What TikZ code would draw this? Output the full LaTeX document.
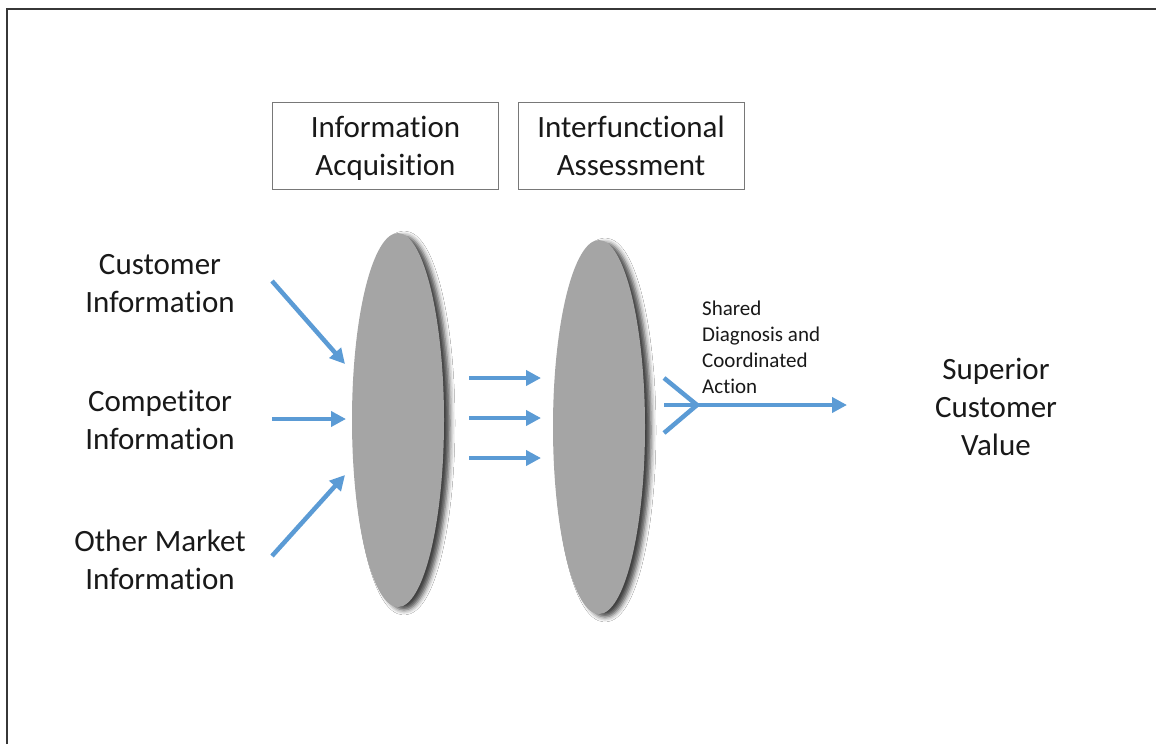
\documentclass[tikz,border=0pt]{standalone}
\usepackage{fontspec}
\setmainfont{Carlito}[Ligatures=NoCommon]
\usetikzlibrary{shapes.geometric,arrows.meta,shadows.blur}
\definecolor{arrowblue}{RGB}{91,155,213}
\definecolor{lensgray}{RGB}{165,165,165}
\definecolor{boxgray}{RGB}{120,120,120}
\definecolor{framegray}{RGB}{55,55,55}
\definecolor{txt}{RGB}{25,25,25}
\tikzset{
  bigtext/.style={font=\fontsize{31}{38}\selectfont, text=txt, align=center, inner sep=0pt},
  smalltext/.style={font=\fontsize{21}{26}\selectfont, text=txt, align=left, inner sep=0pt},
  titlebox/.style={draw=boxgray, line width=1pt, minimum width=226pt, minimum height=87pt, bigtext},
  lens/.style={ellipse, fill=lensgray, draw=none, minimum width=92pt, minimum height=374pt, inner sep=0pt,
    blur shadow={shadow xshift=6pt, shadow yshift=-3pt, shadow blur radius=5pt, shadow opacity=75}},
  flow/.style={draw=arrowblue, line width=4.5pt, -{Triangle[length=15pt,width=15pt]}},
  flowline/.style={draw=arrowblue, line width=4.5pt},
}
\begin{document}
\begin{tikzpicture}[x=1pt,y=-1pt]
\useasboundingbox (0,0) rectangle (1156,744);
\fill[white] (0,0) rectangle (1156,744);
% frame
\coordinate (fbl) at (7,744);
\coordinate (ftl) at (7,9);
\coordinate (ftr) at (1156,9);
\draw[framegray, line width=2pt] (fbl) -- (ftl) -- (ftr);

% title boxes
\node[titlebox] (acq) at (385.5,145.5) {};
\node[bigtext] (acqt) at (385.5,148.5) {Information\\Acquisition};
\node[titlebox] (assess) at (631,145.5) {Interfunctional\\Assessment};

% lenses
\node[lens] (lens1) at (398,420) {};
\node[lens] (lens2) at (599,427) {};

% left labels
\node[bigtext] (cust) at (160,284) {Customer\\Information};
\node[bigtext] (comp) at (160,420) {Competitor\\Information};
\node[bigtext] (other) at (160,560) {Other Market\\Information};

% right labels
\node[smalltext, anchor=west] (shared) at (702,347) {Shared\\Diagnosis and\\Coordinated\\Action};
\node[bigtext] (scv) at (996,407) {Superior\\Customer\\Value};

% input arrows
\coordinate (c1s) at (272,281); \coordinate (c1e) at (345,364);
\coordinate (c2s) at (272,419); \coordinate (c2e) at (346,419);
\coordinate (c3s) at (272,556); \coordinate (c3e) at (345,475);
\draw[flow] (c1s) -- (c1e);
\draw[flow] (c2s) -- (c2e);
\draw[flow] (c3s) -- (c3e);

% middle arrows
\coordinate (m1s) at (469,378); \coordinate (m1e) at (541,378);
\coordinate (m2s) at (469,418); \coordinate (m2e) at (541,418);
\coordinate (m3s) at (469,458); \coordinate (m3e) at (541,458);
\draw[flow] (m1s) -- (m1e);
\draw[flow] (m2s) -- (m2e);
\draw[flow] (m3s) -- (m3e);

% output
\coordinate (o1) at (664,378);
\coordinate (oj) at (697,405);
\coordinate (o2) at (664,433);
\coordinate (os) at (664,405);
\coordinate (oe) at (847,405);
\draw[flowline] (o1) -- (oj) -- (o2);
\draw[flow] (os) -- (oe);
\end{tikzpicture}
\end{document}
